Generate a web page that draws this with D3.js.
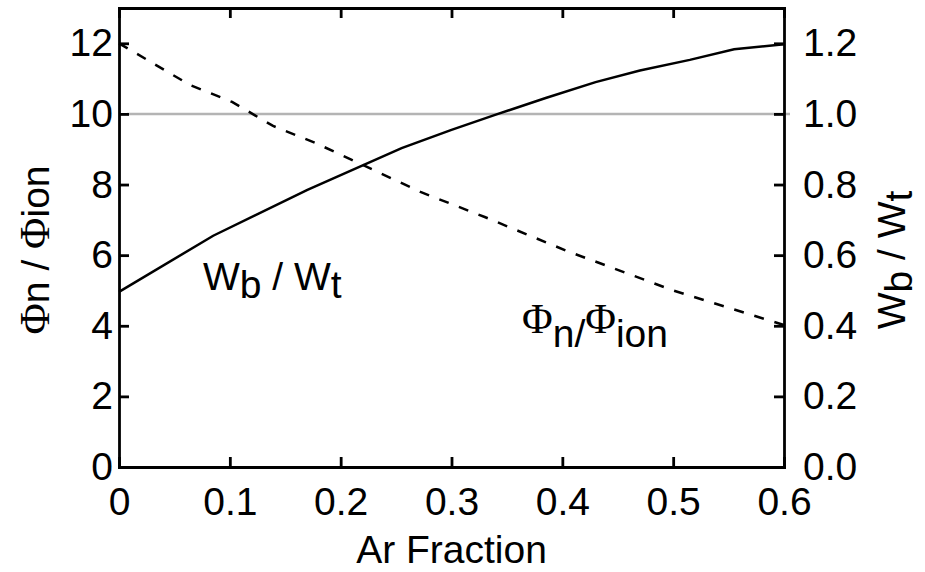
<!DOCTYPE html>
<html>
<head>
<meta charset="utf-8">
<script src="https://cdn.jsdelivr.net/npm/d3@7"></script>
<style>
  body { margin: 0; background: #fff; }
  text { font-family: "Liberation Sans", Arial, sans-serif; fill: #000; }
  .axis path, .axis line { stroke: #000; stroke-width: 2.8; }
  .axis text { font-size: 39px; }
  .phi { font-family: "Liberation Serif", "Times New Roman", serif; }
</style>
</head>
<body>
<svg width="925" height="572"></svg>
<script>
// values
var arFraction = [0, 0.085, 0.17, 0.255, 0.3, 0.34, 0.385, 0.43, 0.47, 0.515, 0.555, 0.6];
var wbWt = [0.496, 0.655, 0.785, 0.903, 0.955, 0.998, 1.045, 1.09, 1.123, 1.153, 1.183, 1.197];

var arFractionDash = [0, 0.064, 0.102, 0.139, 0.177, 0.21, 0.272, 0.33, 0.404, 0.5, 0.6];
var phiRatio = [12.0, 10.82, 10.34, 9.66, 9.18, 8.7, 7.79, 7.08, 6.12, 5.0, 4.02];

var xTicks = [0, 0.1, 0.2, 0.3, 0.4, 0.5, 0.6];
var yLeftTicks = [0, 2, 4, 6, 8, 10, 12];
var yRightTicks = [0, 0.2, 0.4, 0.6, 0.8, 1.0, 1.2];
var refLine = 10;

var svg = d3.select("svg"),
  margin = { top: 8, right: 141, bottom: 105, left: 119 },
  width = 925 - margin.left - margin.right,
  height = 572 - margin.top - margin.bottom;

var g = svg.append("g")
  .attr("transform", "translate(" + margin.left + "," + margin.top + ")");

var x = d3.scaleLinear().domain([0, 0.6]).range([0, width]);
var y = d3.scaleLinear().domain([0, 13]).range([height, 0]);
var y2 = d3.scaleLinear().domain([0, 1.3]).range([height, 0]);

// grey reference line at 10 (1.0)
g.append("line")
  .attr("x1", 8)
  .attr("x2", width + 6)
  .attr("y1", y(refLine))
  .attr("y2", y(refLine))
  .attr("stroke", "#b4b4b4")
  .attr("stroke-width", 2.5);

// axes, ticks pointing inwards
g.append("g")
  .attr("class", "axis")
  .attr("transform", "translate(0," + height + ")")
  .call(d3.axisBottom(x).tickValues(xTicks).tickFormat(d3.format("")).tickSizeInner(-10).tickSizeOuter(0).tickPadding(20));

g.append("g")
  .attr("class", "axis")
  .call(d3.axisTop(x).tickValues(xTicks).tickFormat("").tickSizeInner(-10).tickSizeOuter(0));

g.append("g")
  .attr("class", "axis")
  .call(d3.axisLeft(y).tickValues(yLeftTicks).tickFormat(d3.format("d")).tickSizeInner(-10).tickSizeOuter(0).tickPadding(6));

g.append("g")
  .attr("class", "axis")
  .attr("transform", "translate(" + width + ",0)")
  .call(d3.axisRight(y2).tickValues(yRightTicks).tickFormat(d3.format(".1f")).tickSizeInner(-10).tickSizeOuter(0).tickPadding(19));

g.selectAll(".axis .domain").attr("stroke-linecap", "square");

// curves
var lineW = d3.line()
  .x(function(d) { return x(d[0]); })
  .y(function(d) { return y2(d[1]); });

var lineP = d3.line()
  .x(function(d) { return x(d[0]); })
  .y(function(d) { return y(d[1]); });

g.append("path")
  .datum(d3.zip(arFraction, wbWt))
  .attr("fill", "none")
  .attr("stroke", "#000")
  .attr("stroke-width", 2.5)
  .attr("d", lineW);

g.append("path")
  .datum(d3.zip(arFractionDash, phiRatio))
  .attr("fill", "none")
  .attr("stroke", "#000")
  .attr("stroke-width", 2.5)
  .attr("stroke-dasharray", "10,11")
  .attr("d", lineP);

// labels with lowered subscripts
function subLabel(sel, parts, size) {
  parts.forEach(function(p) {
    var t = sel.append("tspan").text(p.t).attr("font-size", size);
    if (p.dy) t.attr("dy", p.dy);
    if (p.phi) t.attr("class", "phi");
  });
}

var wLabel = svg.append("text").attr("x", 203).attr("y", 290);
subLabel(wLabel, [
  { t: "W" }, { t: "b", dy: 8 }, { t: " / W", dy: -8 }, { t: "t", dy: 8 }
], 39);

var pLabel = svg.append("text").attr("x", 522).attr("y", 333);
subLabel(pLabel, [
  { t: "\u03A6", phi: true }, { t: "n", dy: 14 }, { t: "/", dy: 0 },
  { t: "\u03A6", phi: true, dy: -14 }, { t: "ion", dy: 14 }
], 39);
pLabel.selectAll(".phi").attr("font-size", 42);

// axis titles
svg.append("text")
  .attr("x", 119 + width / 2)
  .attr("y", 563)
  .attr("text-anchor", "middle")
  .attr("font-size", 39)
  .text("Ar Fraction");

var leftTitle = svg.append("text")
  .attr("transform", "translate(49,250) rotate(-90)")
  .attr("text-anchor", "middle");
subLabel(leftTitle, [
  { t: "\u03A6", phi: true }, { t: "n" }, { t: " / " }, { t: "\u03A6", phi: true }, { t: "ion" }
], 39);
leftTitle.selectAll(".phi").attr("font-size", 43);

var rightTitle = svg.append("text")
  .attr("transform", "translate(905,260) rotate(-90)")
  .attr("text-anchor", "middle");
subLabel(rightTitle, [
  { t: "W" }, { t: "b", dy: 7 }, { t: " / W", dy: -7 }, { t: "t", dy: 7 }
], 39);
</script>
</body>
</html>
